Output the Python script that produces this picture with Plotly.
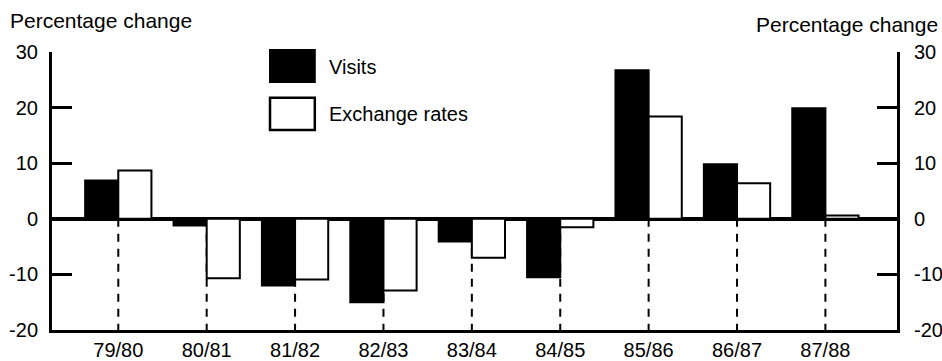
import plotly.graph_objects as go

categories = ["79/80", "80/81", "81/82", "82/83", "83/84", "84/85", "85/86", "86/87", "87/88"]
visits = [6.9, -1.2, -12.0, -15.0, -4.1, -10.5, 26.7, 9.8, 19.9]
exchange_rates = [8.7, -10.7, -10.9, -12.9, -7.0, -1.5, 18.4, 6.4, 0.6]
y_ticks = [-20, -10, 0, 10, 20, 30]
y_tick_labels = ["-20", "-10", "0", "10", "20", "30"]
y_min, y_max = -20, 30

FONT = "Liberation Sans, Arial, Helvetica, sans-serif"

# dashed drop lines from zero to bottom at each category
dx, dy = [], []
for c in categories:
    dx += [c, c, None]
    dy += [0, y_min, None]

fig = go.Figure()
fig.add_trace(go.Scatter(
    x=dx, y=dy, mode="lines", yaxis="y",
    line=dict(color="black", width=2, dash="8px,7px"),
    hoverinfo="skip", showlegend=False))
fig.add_trace(go.Bar(
    x=categories, y=visits, name="Visits", yaxis="y2",
    marker=dict(color="black", line=dict(color="black", width=2)),
    showlegend=False))
fig.add_trace(go.Bar(
    x=categories, y=exchange_rates, name="Exchange rates", yaxis="y2",
    marker=dict(color="white", line=dict(color="black", width=2)),
    showlegend=False))

yax_common = dict(
    range=[y_min, y_max], tickvals=y_ticks, ticktext=y_tick_labels,
    ticks="inside", ticklen=20, automargin=False,
    tickwidth=2.5, tickcolor="black", showline=True, linewidth=3,
    linecolor="black", showgrid=False,
    tickfont=dict(family=FONT, size=20, color="black"),
)

fig.update_layout(
    width=942, height=361,
    margin=dict(l=52, r=45, t=52, b=31),
    paper_bgcolor="white", plot_bgcolor="white",
    barmode="group", bargap=0.25, bargroupgap=0,
    font=dict(family=FONT, color="black"),
    xaxis=dict(
        type="category", range=[-0.75, 8.81], showline=True, linewidth=3,
        linecolor="black", ticks="", showgrid=False, zeroline=False,
        automargin=False,
        tickfont=dict(family=FONT, size=20, color="black"),
        ticklabelstandoff=0,
    ),
    yaxis=dict(
        **yax_common, side="left", zeroline=True, zerolinewidth=4,
        zerolinecolor="black", ticklabelstandoff=7,
    ),
    yaxis2=dict(
        **yax_common, side="right", overlaying="y", zeroline=False,
        ticklabelstandoff=10,
    ),
)

# manual legend
fig.add_shape(type="rect", xref="paper", yref="paper",
              x0=0.258, x1=0.311, y0=0.892, y1=1.007,
              fillcolor="black", line=dict(color="black", width=2))
fig.add_shape(type="rect", xref="paper", yref="paper",
              x0=0.258, x1=0.311, y0=0.719, y1=0.835,
              fillcolor="white", line=dict(color="black", width=2.5))
fig.add_annotation(text="Visits", xref="paper", yref="paper", x=0.326, y=0.945,
                   xanchor="left", yanchor="middle", showarrow=False,
                   font=dict(family=FONT, size=20, color="black"))
fig.add_annotation(text="Exchange rates", xref="paper", yref="paper", x=0.326, y=0.776,
                   xanchor="left", yanchor="middle", showarrow=False,
                   font=dict(family=FONT, size=20, color="black"))

# axis titles
fig.add_annotation(text="Percentage change", xref="paper", yref="paper",
                   x=-0.052, y=1.115, xanchor="left", yanchor="middle",
                   showarrow=False, font=dict(family=FONT, size=21, color="black"))
fig.add_annotation(text="Percentage change", xref="paper", yref="paper",
                   x=1.051, y=1.10, xanchor="right", yanchor="middle",
                   showarrow=False, font=dict(family=FONT, size=21, color="black"))

fig.write_html(
    "out.html",
    config={"displayModeBar": False},
    post_script="document.body.style.margin='0';document.body.style.overflow='hidden';",
)
